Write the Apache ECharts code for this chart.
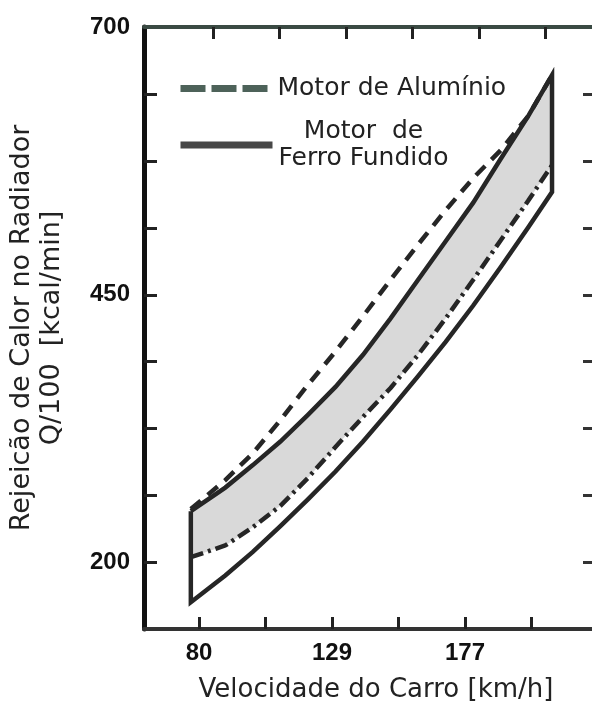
<!DOCTYPE html>
<html>
<head>
<meta charset="utf-8">
<script src="https://cdn.jsdelivr.net/npm/echarts@6/dist/echarts.min.js"></script>
<style>
  html, body { margin: 0; padding: 0; background: #fff; }
  #chart { width: 592px; height: 701px; }
</style>
</head>
<body>
<div id="chart"></div>
<script>
// Heat rejected at the radiator vs. car speed, aluminium and cast-iron engines.
// Speeds in km/h, heat in Q/100 [kcal/min].

// speeds at which the envelope edges are read
const speeds = [77.5, 90, 100, 110, 120, 130, 140, 150, 160, 170, 180, 190, 200, 208.6];

// Cast-iron engine envelope (solid outline)
const heatIronUpper = [248, 270, 291, 313, 338, 364, 394, 428, 464, 500, 536, 577, 617, 655];
const heatIronLower = [163, 188, 210, 234, 259, 285, 313, 343, 374, 406, 440, 476, 513, 546];

// Aluminium engine envelope (dashed)
const heatAlUpper = [250, 277, 302, 333, 366, 397, 430, 464, 497, 529, 559, 585, 617, 655];
const heatAlLower = [205, 216, 233, 253, 279, 308, 336, 363, 394, 428, 464, 501, 538, 571];

// Axis ticks and labels (speed ticks every 15 mph)
const speedTicks  = [80.47, 104.61, 128.75, 152.89, 177.03, 201.17];
const speedLabels = [80.47, 128.75, 177.03];
const topTicks    = [85.6, 109.7, 133.9, 158.0, 182.1, 206.3];
const heatTicks   = [200, 262.5, 325, 387.5, 450, 512.5, 575, 637.5];
const heatLabels  = [200, 450, 700];

const AL_NAME = 'Motor de Alumínio';
const FE_NAME = 'Motor de Ferro Fundido';
const INK = '#262626';
const TEXT_FONT = 'DejaVu Sans';

const pairs = ys => speeds.map((x, i) => [x, ys[i]]);

const ironUpper = pairs(heatIronUpper);
const ironLower = pairs(heatIronLower);
const alUpper = pairs(heatAlUpper);
const alLower = pairs(heatAlLower);

// closed cast-iron outline: upper edge, right side, lower edge back, left side
const ironOutline = ironUpper.concat(ironLower.slice().reverse(), [ironUpper[0]]);
// overlap of both envelopes: iron upper edge down to aluminium lower edge
const overlap = ironUpper.concat(alLower.slice().reverse());

const hiddenSymbol = { opacity: 0, color: 'rgba(0,0,0,0)', borderWidth: 0 };

const chart = echarts.init(document.getElementById('chart'), null, { renderer: 'canvas' });

chart.setOption({
  animation: false,
  backgroundColor: '#fff',
  grid: { left: 144, right: -3, top: 27, bottom: 72, outerBoundsMode: 'none', containLabel: false },
  legend: {
    orient: 'vertical',
    left: 172,
    top: 70,
    itemWidth: 92,
    itemHeight: 14,
    itemGap: 16,
    selectedMode: false,
    textStyle: { fontFamily: TEXT_FONT, fontSize: 25, lineHeight: 27, color: '#222',
      rich: { c: { width: 172, align: 'center', fontFamily: TEXT_FONT, fontSize: 25, lineHeight: 27, color: '#222' } } },
    formatter: name => name === FE_NAME ? '{c|Motor  de}\n{c|Ferro Fundido}' : name,
    data: [
      { name: AL_NAME, itemStyle: hiddenSymbol, lineStyle: { color: '#4d6259', width: 7, type: [25, 6] } },
      { name: FE_NAME, itemStyle: hiddenSymbol, lineStyle: { color: '#474747', width: 7, type: 'solid' } }
    ]
  },
  xAxis: [
    {
      type: 'value', position: 'bottom', min: 60.5, max: 224.2,
      name: 'Velocidade do Carro [km/h]', nameLocation: 'middle', nameGap: 48,
      nameTextStyle: { fontFamily: TEXT_FONT, fontSize: 26, color: '#222', padding: [0, 0, 0, 13] },
      axisLine: { show: true, onZero: false, lineStyle: { color: '#333', width: 4 } },
      axisTick: { show: true, inside: true, length: 12, customValues: speedTicks, lineStyle: { color: '#222', width: 3 } },
      axisLabel: { customValues: speedLabels, formatter: v => String(Math.round(v)), margin: 12,
        fontFamily: 'Liberation Sans', fontWeight: 'bold', fontSize: 24, lineHeight: 24, color: '#111' },
      splitLine: { show: false }
    },
    {
      type: 'value', position: 'top', min: 60.5, max: 224.2,
      axisLine: { show: true, onZero: false, lineStyle: { color: '#3a4a43', width: 4 } },
      axisTick: { show: true, inside: true, length: 12, customValues: topTicks, lineStyle: { color: '#222', width: 3 } },
      axisLabel: { show: false },
      splitLine: { show: false }
    }
  ],
  yAxis: [
    {
      type: 'value', position: 'left', min: 138, max: 700,
      name: 'Rejeicão de Calor no Radiador\nQ/100  [kcal/min]', nameLocation: 'middle', nameGap: 77,
      nameTextStyle: { fontFamily: TEXT_FONT, fontSize: 27, lineHeight: 30, color: '#222' },
      axisLine: { show: true, onZero: false, lineStyle: { color: '#111', width: 5 } },
      axisTick: { show: true, inside: true, length: 13, customValues: heatTicks, lineStyle: { color: '#222', width: 3 } },
      axisLabel: { customValues: heatLabels, margin: 14,
        fontFamily: 'Liberation Sans', fontWeight: 'bold', fontSize: 24, color: '#111' },
      splitLine: { show: false }
    },
    {
      type: 'value', position: 'right', min: 138, max: 700,
      axisLine: { show: false },
      axisTick: { show: true, inside: true, length: 12, customValues: heatTicks, lineStyle: { color: '#333', width: 3 } },
      axisLabel: { show: false },
      splitLine: { show: false }
    }
  ],
  series: [
    {
      type: 'custom', name: 'overlap', silent: true, z: 1,
      data: overlap,
      encode: { x: 0, y: 1 },
      renderItem: (params, api) => {
        if (params.dataIndex !== 0) return null;
        return {
          type: 'polygon',
          shape: { points: overlap.map(p => api.coord(p)) },
          style: { fill: '#d9d9d9' }
        };
      }
    },
    {
      type: 'line', name: AL_NAME, data: alUpper, symbol: 'none', z: 3,
      itemStyle: { color: INK },
      lineStyle: { color: INK, width: 4.5, type: [13, 9] }
    },
    {
      type: 'line', name: AL_NAME, data: alLower, symbol: 'none', z: 3,
      itemStyle: { color: INK },
      lineStyle: { color: INK, width: 4.5, type: [13, 5, 3, 5] }
    },
    {
      type: 'line', name: FE_NAME, data: ironOutline, symbol: 'none', z: 4,
      itemStyle: { color: INK },
      lineStyle: { color: INK, width: 4.5, type: 'solid', join: 'miter' }
    }
  ]
});
</script>
</body>
</html>
